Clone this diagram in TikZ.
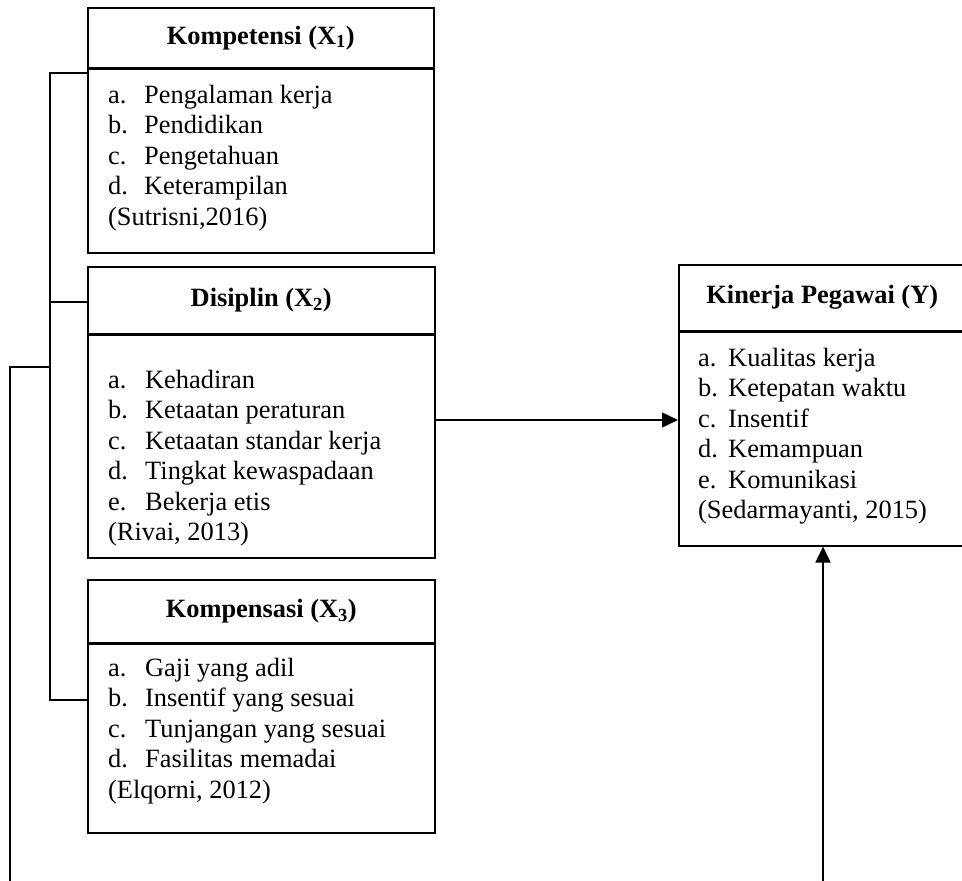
\documentclass[tikz,border=0pt]{standalone}
\usepackage{fontspec}
\setmainfont{Liberation Serif}
\usetikzlibrary{arrows.meta}
\begin{document}
\begin{tikzpicture}[x=1pt,y=-1pt,
  box/.style={draw, line width=1.5pt, anchor=north west, inner sep=0pt},
  hdr/.style={box, font=\bfseries\fontsize{26.4}{30.4}\selectfont},
  txt/.style={anchor=north west, inner sep=0pt, align=left, font=\fontsize{26.4}{30.4}\selectfont},
  conn/.style={line width=1.5pt},
  arr/.style={line width=1.5pt, -{Triangle[length=16pt,width=15pt]}}]
\useasboundingbox (0,0) rectangle (962,881);
\clip (0,0) rectangle (962,881);
% Kompetensi
\node[hdr, minimum width=346pt, minimum height=60pt] (h1) at (87,7) {Kompetensi (X\textsubscript{1})};
\node[box, minimum width=346pt, minimum height=184pt] (b1) at (87,68) {};
\node[txt] (t1) at (108,82) {\strut\makebox[36pt][l]{a.}Pengalaman kerja\\
\strut\makebox[36pt][l]{b.}Pendidikan\\
\strut\makebox[36pt][l]{c.}Pengetahuan\\
\strut\makebox[36pt][l]{d.}Keterampilan\\
\strut(Sutrisni,2016)};
% Disiplin
\node[hdr, minimum width=347pt, minimum height=66.5pt] (h2) at (87,266) {Disiplin (X\textsubscript{2})};
\node[box, minimum width=347pt, minimum height=223pt] (b2) at (87,334) {};
\node[txt] (t2) at (108,367) {\strut\makebox[37pt][l]{a.}Kehadiran\\
\strut\makebox[37pt][l]{b.}Ketaatan peraturan\\
\strut\makebox[37pt][l]{c.}Ketaatan standar kerja\\
\strut\makebox[37pt][l]{d.}Tingkat kewaspadaan\\
\strut\makebox[37pt][l]{e.}Bekerja etis\\
\strut(Rivai, 2013)};
% Kompensasi
\node[hdr, minimum width=347pt, minimum height=63pt] (h3) at (87,579) {Kompensasi (X\textsubscript{3})};
\node[box, minimum width=347pt, minimum height=189pt] (b3) at (87,643) {};
\node[txt] (t3) at (108,655) {\strut\makebox[37pt][l]{a.}Gaji yang adil\\
\strut\makebox[37pt][l]{b.}Insentif yang sesuai\\
\strut\makebox[37pt][l]{c.}Tunjangan yang sesuai\\
\strut\makebox[37pt][l]{d.}Fasilitas memadai\\
\strut(Elqorni, 2012)};
% Kinerja Pegawai
\node[hdr, minimum width=287pt, minimum height=66pt] (hy) at (678,264) {Kinerja Pegawai (Y)};
\node[box, minimum width=287pt, minimum height=214pt] (by) at (678,331) {};
\node[txt] (ty) at (698,345) {\strut\makebox[30pt][l]{a.}Kualitas kerja\\
\strut\makebox[30pt][l]{b.}Ketepatan waktu\\
\strut\makebox[30pt][l]{c.}Insentif\\
\strut\makebox[30pt][l]{d.}Kemampuan\\
\strut\makebox[30pt][l]{e.}Komunikasi\\
\strut(Sedarmayanti, 2015)};
% connectors
\coordinate (j1) at (50,73);
\coordinate (j2) at (50,302);
\coordinate (j3) at (50,700);
\coordinate (j4) at (50,367);
\coordinate (o1) at (10,367);
\coordinate (o2) at (10,890);
\coordinate (ay) at (0,420);
\coordinate (v0) at (823,890);
\draw[conn] (j1 -| b1.west) -- (j1) -- (j3) -- (j3 -| b3.west);
\draw[conn] (j2) -- (j2 -| h2.west);
\draw[conn] (j4) -- (o1) -- (o2);
\draw[arr] (b2.east |- ay) -- (by.west |- ay);
\draw[arr] (v0) -- (v0 |- by.south);
\end{tikzpicture}
\end{document}
